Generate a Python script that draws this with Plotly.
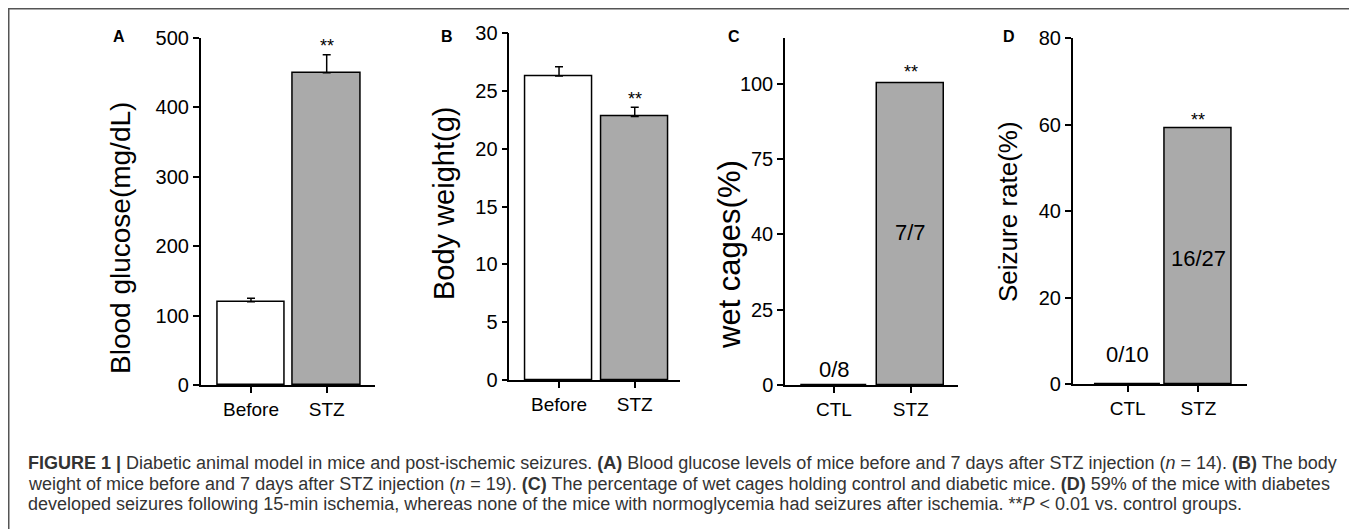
import plotly.graph_objects as go

# page body has an 8px margin, so the figure is drawn at offset (8, 8) in the window
OFF = 8
W, H = 1357 - OFF, 529 - OFF

# ---------------- data ----------------
cats_ab = ["Before", "STZ"]
cats_cd = ["CTL", "STZ"]

glucose = [120, 450]
glucose_err = [5, 26]

weight = [26.3, 22.8]
weight_err = [0.8, 0.8]

wet_cages = [0, 100]
wet_labels = ["0/8", "7/7"]

seizure = [0, 59.2]
seizure_labels = ["0/10", "16/27"]

ticks_a = [0, 100, 200, 300, 400, 500]
ticks_b = [0, 5, 10, 15, 20, 25, 30]
ticks_c_pos = [0, 25, 50, 75, 100]
ticks_c_txt = ["0", "25", "40", "75", "100"]
ticks_d = [0, 20, 40, 60, 80]

FILL = ["#ffffff", "#aaaaaa"]
FONT = "Liberation Sans, Arial, sans-serif"


def px(x):
    return (x - OFF) / W


def py(y):
    return 1 - (y - OFF) / H


fig = go.Figure()

panels = [
    dict(n="", cats=cats_ab, vals=glucose, err=glucose_err, xd=(200.7, 375), yd=(38, 385),
         xr=[-0.664, 1.638], yr=[0, 500], tv=ticks_a, tt=[str(t) for t in ticks_a], bw=0.885,
         title="Blood glucose(mg/dL)", tx=120, ty=238, ts=28, star_y=488, letter="A", lx=119),
    dict(n="2", cats=cats_ab, vals=weight, err=weight_err, xd=(509.3, 680), yd=(33.3, 380),
         xr=[-0.657, 1.598], yr=[0, 30], tv=ticks_b, tt=[str(t) for t in ticks_b], bw=0.88,
         title="Body weight(g)", tx=444, ty=204, ts=29, star_y=24.3, letter="B", lx=447),
    dict(n="3", cats=cats_cd, vals=wet_cages, err=None, xd=(785, 958), yd=(38.3, 385),
         xr=[-0.639, 1.617], yr=[0, 115], tv=ticks_c_pos, tt=ticks_c_txt, bw=0.87,
         title="wet cages(%)", tx=729, ty=255, ts=31, star_y=103.8, letter="C", lx=734,
         labels=wet_labels, label_y=[5, 50.7]),
    dict(n="4", cats=cats_cd, vals=seizure, err=None, xd=(1072.7, 1246.7), yd=(38.3, 384.3),
         xr=[-0.777, 1.681], yr=[0, 80], tv=ticks_d, tt=[str(t) for t in ticks_d], bw=0.946,
         title="Seizure rate(%)", tx=1008, ty=212, ts=26, star_y=61.2, letter="D", lx=1009,
         labels=seizure_labels, label_y=[6.8, 29.2]),
]

annotations = []
for p in panels:
    xa = "x" + p["n"]
    ya = "y" + p["n"]
    err = None
    if p["err"] is not None:
        err = dict(type="data", array=p["err"], arrayminus=[0] * len(p["err"]), symmetric=False,
                   color="black", thickness=1.5, width=4)
    fig.add_trace(go.Bar(
        x=p["cats"], y=p["vals"], xaxis=xa, yaxis=ya, width=p["bw"],
        marker=dict(color=FILL, line=dict(color="black", width=1.5)),
        error_y=err, showlegend=False, hoverinfo="skip",
    ))
    axis_common = dict(showline=True, linecolor="black", linewidth=1.5, ticks="outside",
                       ticklen=6, tickwidth=1.5, tickcolor="black", showgrid=False,
                       zeroline=False, fixedrange=True, automargin=False)
    fig.layout["xaxis" + p["n"]] = dict(
        domain=[px(p["xd"][0]), px(p["xd"][1])], anchor=ya, range=p["xr"], type="category",
        tickfont=dict(family=FONT, size=19, color="black"), **axis_common)
    fig.layout["yaxis" + p["n"]] = dict(
        domain=[py(p["yd"][1]), py(p["yd"][0])], anchor=xa, range=p["yr"],
        tickvals=p["tv"], ticktext=p["tt"],
        tickfont=dict(family=FONT, size=20, color="black"), **axis_common)
    # y title
    annotations.append(dict(x=px(p["tx"]), y=py(p["ty"]), xref="paper", yref="paper",
                            text=p["title"], textangle=-90, showarrow=False,
                            xanchor="center", yanchor="middle",
                            font=dict(family=FONT, size=p["ts"], color="black")))
    # significance stars
    annotations.append(dict(x=p["cats"][1], y=p["star_y"], xref=xa, yref=ya, text="**",
                            showarrow=False, yanchor="middle",
                            font=dict(family=FONT, size=18, color="black")))
    # panel letter
    annotations.append(dict(x=px(p["lx"]), y=py(36), xref="paper", yref="paper",
                            text="<b>" + p["letter"] + "</b>", showarrow=False,
                            xanchor="center", yanchor="middle",
                            font=dict(family=FONT, size=16, color="black")))
    if "labels" in p:
        for c, t, ly in zip(p["cats"], p["labels"], p["label_y"]):
            annotations.append(dict(x=c, y=ly, xref=xa, yref=ya, text=t, showarrow=False,
                                    yanchor="middle",
                                    font=dict(family=FONT, size=22, color="black")))

caption = [
    "<b>FIGURE 1 |</b> Diabetic animal model in mice and post-ischemic seizures. <b>(A)</b> Blood glucose "
    "levels of mice before and 7 days after STZ injection (<i>n</i> = 14). <b>(B)</b> The body",
    "weight of mice before and 7 days after STZ injection (<i>n</i> = 19). <b>(C)</b> The percentage of wet "
    "cages holding control and diabetic mice. <b>(D)</b> 59% of the mice with diabetes",
    "developed seizures following 15-min ischemia, whereas none of the mice with normoglycemia had "
    "seizures after ischemia. **<i>P</i> &lt; 0.01 vs. control groups.",
]
cap_y = [463, 483.5, 504]
for t, y in zip(caption, cap_y):
    annotations.append(dict(x=px(26), y=py(y), xref="paper", yref="paper", text=t,
                            showarrow=False, xanchor="left", yanchor="middle",
                            font=dict(family="Liberation Sans, Arial", size=18,
                                      color="#333333")))

fig.update_layout(
    width=W, height=H, margin=dict(l=0, r=0, t=0, b=0, pad=0, autoexpand=False),
    paper_bgcolor="white", plot_bgcolor="rgba(0,0,0,0)",
    annotations=annotations,
    shapes=[dict(type="rect", xref="paper", yref="paper", x0=px(8.75), x1=px(1355.5),
                 y0=py(545), y1=py(8.75), line=dict(color="#555555", width=1.5))],
    bargap=0,
)

fig.write_html("out.html")
